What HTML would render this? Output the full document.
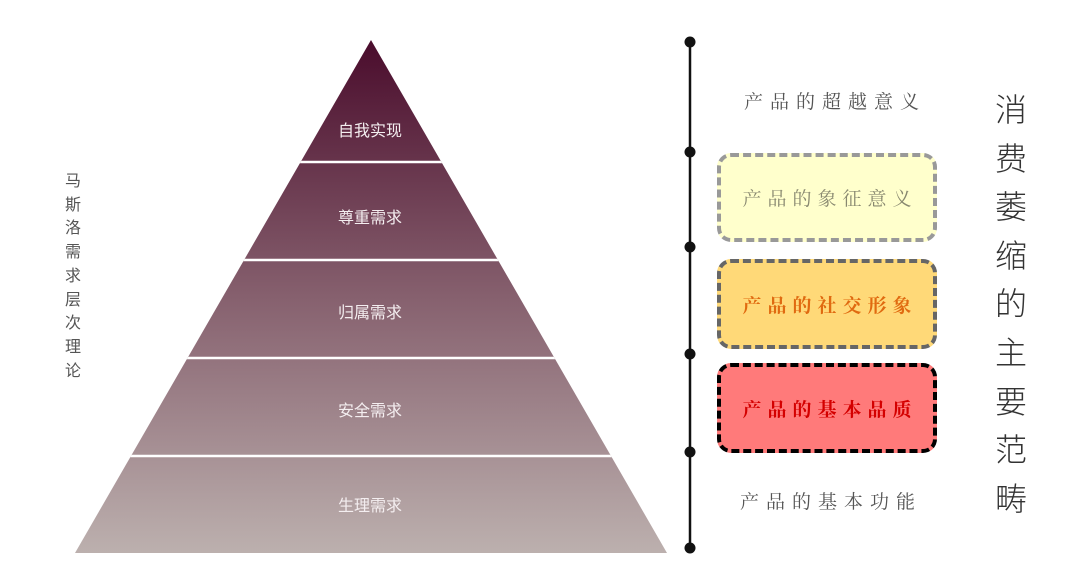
<!DOCTYPE html>
<html><head><meta charset="utf-8"><style>
body{margin:0;background:#fff;width:1080px;height:587px;overflow:hidden;position:relative;font-family:"Liberation Sans","Noto Sans CJK SC",sans-serif}
.box{position:absolute;left:717px;width:220px;border-radius:14px;box-sizing:border-box;display:flex;align-items:center;justify-content:center;font-family:"Noto Serif CJK SC",serif;font-size:19px;letter-spacing:6px;padding-left:6px}
.v{position:absolute;text-align:center;font-family:"Noto Sans CJK SC",sans-serif}
</style></head><body>
<svg width="1080" height="587" style="position:absolute;left:0;top:0">
<defs><linearGradient id="g" x1="0" y1="0" x2="0" y2="1">
<stop offset="0" stop-color="#4a0c2c"/><stop offset="0.5" stop-color="#86606e"/><stop offset="1" stop-color="#bcb0ae"/></linearGradient>
<clipPath id="c"><polygon points="371,40 667,553 75,553"/></clipPath></defs>
<polygon points="371,40 667,553 75,553" fill="url(#g)"/>
<g stroke="#fff" stroke-width="2.5" clip-path="url(#c)">
<line x1="0" y1="162" x2="700" y2="162"/><line x1="0" y1="260" x2="700" y2="260"/><line x1="0" y1="358" x2="700" y2="358"/><line x1="0" y1="456" x2="700" y2="456"/>
</g>
<g fill="#f4eef0" font-size="16" text-anchor="middle" font-family="Noto Sans CJK SC">
<text x="370" y="136">自我实现</text><text x="370" y="223">尊重需求</text><text x="370" y="318">归属需求</text><text x="370" y="416">安全需求</text><text x="370" y="511">生理需求</text>
</g>
<line x1="690" y1="42" x2="690" y2="548" stroke="#111" stroke-width="2.5"/>
<g fill="#111"><circle cx="690" cy="42" r="5.5"/><circle cx="690" cy="152" r="5.5"/><circle cx="690" cy="247" r="5.5"/><circle cx="690" cy="354" r="5.5"/><circle cx="690" cy="452" r="5.5"/><circle cx="690" cy="548" r="5.5"/></g>
<g font-size="19" font-family="Noto Serif CJK SC" fill="#555" letter-spacing="7">
<text x="744" y="108">产品的超越意义</text><text x="740" y="508">产品的基本功能</text></g>
</svg>
<div class="box" style="top:153px;height:89px;background:#ffffcc;border:4px dashed #999;color:#888870">产品的象征意义</div>
<div class="box" style="top:259px;height:90px;background:#ffd978;border:4px dashed #666;color:#e06a10;font-weight:bold">产品的社交形象</div>
<div class="box" style="top:363px;height:90px;background:#ff7a7a;border:4px dashed #000;color:#d40000;font-weight:bold">产品的基本品质</div>
<div class="v" style="left:991px;top:84px;width:40px;font-size:32px;line-height:48.6px;color:#333;font-weight:300">消<br>费<br>萎<br>缩<br>的<br>主<br>要<br>范<br>畴</div>
<div class="v" style="left:62px;top:168px;width:22px;font-size:16px;line-height:23.7px;color:#555">马<br>斯<br>洛<br>需<br>求<br>层<br>次<br>理<br>论</div>
</body></html>
